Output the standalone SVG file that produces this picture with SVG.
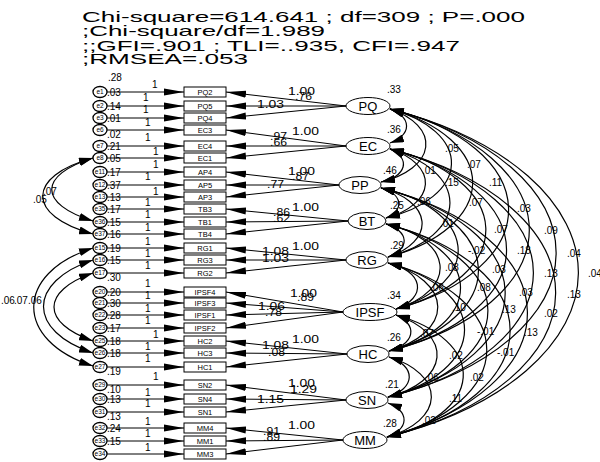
<svg xmlns="http://www.w3.org/2000/svg" width="600" height="462" viewBox="0 0 600 462">
<defs>
<marker id="ah" markerUnits="userSpaceOnUse" markerWidth="20" markerHeight="8" refX="20" refY="4" orient="auto" viewBox="0 0 20 8"><path d="M0,0.5 L20,4 L0,7.5 z" fill="#000"/></marker>
<marker id="ch" markerUnits="userSpaceOnUse" markerWidth="14" markerHeight="8" refX="14" refY="4" orient="auto-start-reverse" viewBox="0 0 14 8"><path d="M0,0 L14,4 L0,8 z" fill="#000"/></marker>
</defs>
<style>
text{font-family:"Liberation Sans",Arial,sans-serif;fill:#000}
.t{font-size:14.5px}
.n{font-size:10px}
.b{font-size:7.5px;text-anchor:middle}
.e{font-size:6.5px;text-anchor:middle}
.l{font-size:13px;text-anchor:middle}
rect{fill:#fff;stroke:#000;stroke-width:1}
ellipse{fill:#fff;stroke:#000;stroke-width:1}
.er ellipse{stroke-width:1.3}
.c path{fill:none;stroke:#000;stroke-width:1.2;marker-start:url(#ch);marker-end:url(#ch)}
.a line{stroke:#000;stroke-width:1;marker-end:url(#ah)}
</style>
<g id="fit">
<text class="t" x="82" y="22" textLength="443" lengthAdjust="spacingAndGlyphs">Chi-square=614.641 ; df=309 ; P=.000</text>
<text class="t" x="82" y="36" textLength="243" lengthAdjust="spacingAndGlyphs">;Chi-square/df=1.989</text>
<text class="t" x="82" y="50.5" textLength="378" lengthAdjust="spacingAndGlyphs">;;GFI=.901 ; TLI=..935, CFI=.947</text>
<text class="t" x="82" y="64" textLength="166" lengthAdjust="spacingAndGlyphs">;RMSEA=.053</text>
<text class="n" x="108" y="81">.28</text>
</g>
<g id="connectors">
<g class="a">
<line x1="107" y1="92" x2="184" y2="92"/><line x1="107" y1="106" x2="184" y2="106"/><line x1="107" y1="118" x2="184" y2="118"/>
<line x1="107" y1="130" x2="184" y2="130"/><line x1="107" y1="146" x2="184" y2="146"/><line x1="107" y1="158" x2="184" y2="158"/>
<line x1="107" y1="172" x2="184" y2="172"/><line x1="107" y1="185" x2="184" y2="185"/><line x1="107" y1="197" x2="184" y2="197"/>
<line x1="107" y1="209" x2="184" y2="209"/><line x1="107" y1="222" x2="184" y2="222"/><line x1="107" y1="234" x2="184" y2="234"/>
<line x1="107" y1="248" x2="184" y2="248"/><line x1="107" y1="260" x2="184" y2="260"/><line x1="107" y1="273" x2="184" y2="273"/>
<line x1="107" y1="292" x2="184" y2="292"/><line x1="107" y1="303" x2="184" y2="303"/><line x1="107" y1="315" x2="184" y2="315"/><line x1="107" y1="328" x2="184" y2="328"/>
<line x1="107" y1="341" x2="184" y2="341"/><line x1="107" y1="353" x2="184" y2="353"/><line x1="107" y1="367" x2="184" y2="367"/>
<line x1="107" y1="385" x2="184" y2="385"/><line x1="107" y1="399" x2="184" y2="399"/><line x1="107" y1="412" x2="184" y2="412"/>
<line x1="107" y1="428" x2="184" y2="428"/><line x1="107" y1="441" x2="184" y2="441"/><line x1="107" y1="454" x2="184" y2="454"/>
<line x1="346" y1="106" x2="226" y2="92"/><line x1="346" y1="106" x2="226" y2="106"/><line x1="346" y1="106" x2="226" y2="118"/>
<line x1="346" y1="146" x2="226" y2="130"/><line x1="346" y1="146" x2="226" y2="146"/><line x1="346" y1="146" x2="226" y2="158"/>
<line x1="339" y1="185" x2="226" y2="172"/><line x1="339" y1="185" x2="226" y2="185"/><line x1="339" y1="185" x2="226" y2="197"/>
<line x1="348" y1="221" x2="226" y2="209"/><line x1="348" y1="221" x2="226" y2="222"/><line x1="348" y1="221" x2="226" y2="234"/>
<line x1="346" y1="260" x2="226" y2="248"/><line x1="346" y1="260" x2="226" y2="260"/><line x1="346" y1="260" x2="226" y2="273"/>
<line x1="343" y1="312" x2="226" y2="292"/><line x1="343" y1="312" x2="226" y2="303"/><line x1="343" y1="312" x2="226" y2="315"/><line x1="343" y1="312" x2="226" y2="328"/>
<line x1="347" y1="354" x2="226" y2="341"/><line x1="347" y1="354" x2="226" y2="353"/><line x1="347" y1="354" x2="226" y2="367"/>
<line x1="346" y1="400" x2="226" y2="385"/><line x1="346" y1="400" x2="226" y2="399"/><line x1="346" y1="400" x2="226" y2="412"/>
<line x1="343" y1="440" x2="226" y2="428"/><line x1="343" y1="440" x2="226" y2="441"/><line x1="343" y1="440" x2="226" y2="454"/>
</g>
<g class="c">
<path d="M390,109 A35,20 0 0 1 390,143"/>
<path d="M390,109 A73.5,41 0 0 1 381,182"/>
<path d="M390,109 A109,60 0 0 1 386,218"/>
<path d="M390,109 A147,82 0 0 1 388,257"/>
<path d="M390,109 A198,110 0 0 1 396,309"/>
<path d="M390,109 A239,133 0 0 1 389,351"/>
<path d="M390,109 A284,158 0 0 1 388,397"/>
<path d="M390,109 A323,180 0 0 1 387,437"/>
<path d="M390,149 A34,19 0 0 1 381,182"/>
<path d="M390,149 A70,39 0 0 1 386,218"/>
<path d="M390,149 A108,60 0 0 1 388,257"/>
<path d="M390,149 A159,88 0 0 1 396,309"/>
<path d="M390,149 A200,111 0 0 1 389,351"/>
<path d="M390,149 A245,136 0 0 1 388,397"/>
<path d="M390,149 A284,158 0 0 1 387,437"/>
<path d="M381,188 A31,17.5 0 0 1 386,218"/>
<path d="M381,188 A70,39 0 0 1 388,257"/>
<path d="M381,188 A121,67 0 0 1 396,309"/>
<path d="M381,188 A162,90 0 0 1 389,351"/>
<path d="M381,188 A207,115 0 0 1 388,397"/>
<path d="M381,188 A246,137 0 0 1 387,437"/>
<path d="M386,224 A34,19 0 0 1 388,257"/>
<path d="M386,224 A85,47 0 0 1 396,309"/>
<path d="M386,224 A126,70 0 0 1 389,351"/>
<path d="M386,224 A172,95 0 0 1 388,397"/>
<path d="M386,224 A211,117 0 0 1 387,437"/>
<path d="M388,263 A47,26 0 0 1 396,309"/>
<path d="M388,263 A88,49 0 0 1 389,351"/>
<path d="M388,263 A133,74 0 0 1 388,397"/>
<path d="M388,263 A172,96 0 0 1 387,437"/>
<path d="M396,315 A37,21 0 0 1 389,351"/>
<path d="M396,315 A82,46 0 0 1 388,397"/>
<path d="M396,315 A122,67 0 0 1 387,437"/>
<path d="M389,357 A41,23 0 0 1 388,397"/>
<path d="M389,357 A80,45 0 0 1 387,437"/>
<path d="M388,403 A35,20 0 0 1 387,437"/>
<path d="M93,158 C38,175 38,204 93,221"/>
<path d="M93,158 C26,176 26,216 93,234"/>
<path d="M93,248 C14,273 14,341 93,366"/>
<path d="M93,260 C27,282 27,331 93,353"/>
<path d="M93,273 C41,291 41,323 93,341"/>
</g>
<g class="n">
<text x="152" y="88">1</text><text x="143" y="101">1</text><text x="143" y="113">1</text>
<text x="145" y="126">1</text><text x="145" y="141">1</text><text x="153" y="155">1</text>
<text x="153" y="168">1</text><text x="145" y="180">1</text><text x="153" y="195">1</text>
<text x="145" y="206">1</text><text x="145" y="218">1</text><text x="145" y="231">1</text>
<text x="145" y="245">1</text><text x="145" y="257">1</text><text x="145" y="269">1</text>
<text x="145" y="287">1</text><text x="145" y="299">1</text><text x="145" y="312">1</text><text x="145" y="324">1</text>
<text x="153" y="338">1</text><text x="145" y="350">1</text><text x="145" y="362">1</text>
<text x="153" y="380">1</text><text x="145" y="396">1</text><text x="145" y="407">1</text>
<text x="145" y="425">1</text><text x="145" y="437">1</text><text x="145" y="451">1</text>
<text x="288" y="95" textLength="27" lengthAdjust="spacingAndGlyphs">1.00</text><text x="295" y="100" textLength="17" lengthAdjust="spacingAndGlyphs">.76</text><text x="257" y="108" textLength="27" lengthAdjust="spacingAndGlyphs">1.03</text>
<text x="292" y="135" textLength="27" lengthAdjust="spacingAndGlyphs">1.00</text><text x="270" y="140" textLength="17" lengthAdjust="spacingAndGlyphs">.97</text><text x="270" y="146" textLength="17" lengthAdjust="spacingAndGlyphs">.66</text>
<text x="288" y="175" textLength="27" lengthAdjust="spacingAndGlyphs">1.00</text><text x="292" y="180" textLength="17" lengthAdjust="spacingAndGlyphs">.87</text><text x="267" y="188" textLength="17" lengthAdjust="spacingAndGlyphs">.77</text>
<text x="292" y="211" textLength="27" lengthAdjust="spacingAndGlyphs">1.00</text><text x="273" y="216" textLength="17" lengthAdjust="spacingAndGlyphs">.86</text><text x="273" y="222" textLength="17" lengthAdjust="spacingAndGlyphs">.62</text>
<text x="292" y="250" textLength="27" lengthAdjust="spacingAndGlyphs">1.00</text><text x="262" y="255" textLength="27" lengthAdjust="spacingAndGlyphs">1.08</text><text x="262" y="262" textLength="27" lengthAdjust="spacingAndGlyphs">1.03</text>
<text x="290" y="297" textLength="27" lengthAdjust="spacingAndGlyphs">1.00</text><text x="297" y="301" textLength="17" lengthAdjust="spacingAndGlyphs">.89</text><text x="258" y="310" textLength="27" lengthAdjust="spacingAndGlyphs">1.06</text><text x="265" y="316" textLength="17" lengthAdjust="spacingAndGlyphs">.78</text>
<text x="292" y="343" textLength="27" lengthAdjust="spacingAndGlyphs">1.00</text><text x="262" y="349" textLength="27" lengthAdjust="spacingAndGlyphs">1.08</text><text x="268" y="356" textLength="17" lengthAdjust="spacingAndGlyphs">.08</text>
<text x="288" y="387" textLength="27" lengthAdjust="spacingAndGlyphs">1.00</text><text x="290" y="393" textLength="27" lengthAdjust="spacingAndGlyphs">1.29</text><text x="257" y="403" textLength="27" lengthAdjust="spacingAndGlyphs">1.15</text>
<text x="288" y="429" textLength="27" lengthAdjust="spacingAndGlyphs">1.00</text><text x="263" y="435" textLength="17" lengthAdjust="spacingAndGlyphs">.91</text><text x="263" y="441" textLength="17" lengthAdjust="spacingAndGlyphs">.89</text>
<text x="445" y="152">.05</text><text x="467" y="168">.07</text><text x="489" y="186">.11</text><text x="517" y="212">.03</text>
<text x="544" y="234">.09</text><text x="567" y="257">.04</text><text x="588" y="277">.04</text><text x="422" y="174">.01</text>
<text x="445" y="186">.15</text><text x="417" y="205">.06</text><text x="469" y="206">.07</text><text x="440" y="227">.01</text>
<text x="494" y="233">.07</text><text x="468" y="254">-.02</text><text x="517" y="254">.18</text><text x="445" y="271">.08</text>
<text x="492" y="273">.03</text><text x="544" y="277">.13</text><text x="430" y="291">.06</text><text x="477" y="291">.08</text>
<text x="519" y="296">.03</text><text x="567" y="298">.13</text><text x="452" y="311">.10</text><text x="502" y="313">.13</text>
<text x="544" y="317">.02</text><text x="420" y="337">.07</text><text x="477" y="335">-.01</text><text x="524" y="336">.13</text>
<text x="449" y="359">.02</text><text x="497" y="356">-.01</text><text x="425" y="381">.06</text><text x="470" y="381">.02</text>
<text x="449" y="402">.11</text><text x="422" y="424">.02</text>
<text x="43" y="195">.07</text><text x="33" y="203">.05</text>
<text x="1" y="304">.06</text><text x="14" y="304">.07</text><text x="28" y="304">.06</text>
</g>
</g>
<g class="er">
<g id="e1"><ellipse cx="100" cy="92" rx="7" ry="5.5"/><text class="e" x="100" y="94.3">e1</text><text class="n" x="107" y="96">.03</text></g>
<g id="e2"><ellipse cx="100" cy="106" rx="7" ry="5.5"/><text class="e" x="100" y="108.3">e2</text><text class="n" x="107" y="110">.14</text></g>
<g id="e3"><ellipse cx="100" cy="118" rx="7" ry="5.5"/><text class="e" x="100" y="120.3">e3</text><text class="n" x="107" y="122">.01</text></g>
<g id="e6"><ellipse cx="100" cy="130" rx="7" ry="5.5"/><text class="e" x="100" y="132.3">e6</text><text class="n" x="107" y="138">.02</text></g>
<g id="e7"><ellipse cx="100" cy="146" rx="7" ry="5.5"/><text class="e" x="100" y="148.3">e7</text><text class="n" x="107" y="150">.21</text></g>
<g id="e8"><ellipse cx="100" cy="158" rx="7" ry="5.5"/><text class="e" x="100" y="160.3">e8</text><text class="n" x="107" y="162">.05</text></g>
<g id="e11"><ellipse cx="100" cy="172" rx="7" ry="5.5"/><text class="e" x="100" y="174.3">e11</text><text class="n" x="107" y="176">.17</text></g>
<g id="e12"><ellipse cx="100" cy="185" rx="7" ry="5.5"/><text class="e" x="100" y="187.3">e12</text><text class="n" x="107" y="189">.37</text></g>
<g id="e13"><ellipse cx="100" cy="197" rx="7" ry="5.5"/><text class="e" x="100" y="199.3">e13</text><text class="n" x="107" y="201">.13</text></g>
<g id="e35"><ellipse cx="100" cy="209" rx="7" ry="5.5"/><text class="e" x="100" y="211.3">e35</text><text class="n" x="107" y="213">.17</text></g>
<g id="e36"><ellipse cx="100" cy="222" rx="7" ry="5.5"/><text class="e" x="100" y="224.3">e36</text><text class="n" x="107" y="226">.15</text></g>
<g id="e37"><ellipse cx="100" cy="234" rx="7" ry="5.5"/><text class="e" x="100" y="236.3">e37</text><text class="n" x="107" y="238">.16</text></g>
<g id="e15"><ellipse cx="100" cy="248" rx="7" ry="5.5"/><text class="e" x="100" y="250.3">e15</text><text class="n" x="107" y="252">.19</text></g>
<g id="e16"><ellipse cx="100" cy="260" rx="7" ry="5.5"/><text class="e" x="100" y="262.3">e16</text><text class="n" x="107" y="264">.15</text></g>
<g id="e17"><ellipse cx="100" cy="273" rx="7" ry="5.5"/><text class="e" x="100" y="275.3">e17</text><text class="n" x="107" y="281">.30</text></g>
<g id="e20"><ellipse cx="100" cy="292" rx="7" ry="5.5"/><text class="e" x="100" y="294.3">e20</text><text class="n" x="107" y="296">.20</text></g>
<g id="e21"><ellipse cx="100" cy="303" rx="7" ry="5.5"/><text class="e" x="100" y="305.3">e21</text><text class="n" x="107" y="307">.30</text></g>
<g id="e22"><ellipse cx="100" cy="315" rx="7" ry="5.5"/><text class="e" x="100" y="317.3">e22</text><text class="n" x="107" y="319">.28</text></g>
<g id="e23"><ellipse cx="100" cy="328" rx="7" ry="5.5"/><text class="e" x="100" y="330.3">e23</text><text class="n" x="107" y="332">.17</text></g>
<g id="e25"><ellipse cx="100" cy="341" rx="7" ry="5.5"/><text class="e" x="100" y="343.3">e25</text><text class="n" x="107" y="345">.18</text></g>
<g id="e26"><ellipse cx="100" cy="353" rx="7" ry="5.5"/><text class="e" x="100" y="355.3">e26</text><text class="n" x="107" y="357">.18</text></g>
<g id="e27"><ellipse cx="100" cy="367" rx="7" ry="5.5"/><text class="e" x="100" y="369.3">e27</text><text class="n" x="107" y="375">.19</text></g>
<g id="e29"><ellipse cx="100" cy="385" rx="7" ry="5.5"/><text class="e" x="100" y="387.3">e29</text><text class="n" x="107" y="393">.10</text></g>
<g id="e30"><ellipse cx="100" cy="399" rx="7" ry="5.5"/><text class="e" x="100" y="401.3">e30</text><text class="n" x="107" y="403">.13</text></g>
<g id="e31"><ellipse cx="100" cy="412" rx="7" ry="5.5"/><text class="e" x="100" y="414.3">e31</text><text class="n" x="107" y="420">.13</text></g>
<g id="e32"><ellipse cx="100" cy="428" rx="7" ry="5.5"/><text class="e" x="100" y="430.3">e32</text><text class="n" x="107" y="432">.24</text></g>
<g id="e33"><ellipse cx="100" cy="441" rx="7" ry="5.5"/><text class="e" x="100" y="443.3">e33</text><text class="n" x="107" y="445">.15</text></g>
<g id="e34"><ellipse cx="100" cy="454" rx="7" ry="5.5"/><text class="e" x="100" y="456.3">e34</text></g>
</g>
<g id="PQ2"><rect x="184" y="87" width="42" height="10"/><text class="b" x="205" y="94.5">PQ2</text></g>
<g id="PQ5"><rect x="184" y="101" width="42" height="10"/><text class="b" x="205" y="108.5">PQ5</text></g>
<g id="PQ4"><rect x="184" y="113" width="42" height="10"/><text class="b" x="205" y="120.5">PQ4</text></g>
<g id="EC3"><rect x="184" y="125" width="42" height="10"/><text class="b" x="205" y="132.5">EC3</text></g>
<g id="EC4"><rect x="184" y="141" width="42" height="10"/><text class="b" x="205" y="148.5">EC4</text></g>
<g id="EC1"><rect x="184" y="153" width="42" height="10"/><text class="b" x="205" y="160.5">EC1</text></g>
<g id="AP4"><rect x="184" y="167" width="42" height="10"/><text class="b" x="205" y="174.5">AP4</text></g>
<g id="AP5"><rect x="184" y="180" width="42" height="10"/><text class="b" x="205" y="187.5">AP5</text></g>
<g id="AP3"><rect x="184" y="192" width="42" height="10"/><text class="b" x="205" y="199.5">AP3</text></g>
<g id="TB3"><rect x="184" y="204" width="42" height="10"/><text class="b" x="205" y="211.5">TB3</text></g>
<g id="TB1"><rect x="184" y="217" width="42" height="10"/><text class="b" x="205" y="224.5">TB1</text></g>
<g id="TB4"><rect x="184" y="229" width="42" height="10"/><text class="b" x="205" y="236.5">TB4</text></g>
<g id="RG1"><rect x="184" y="243" width="42" height="10"/><text class="b" x="205" y="250.5">RG1</text></g>
<g id="RG3"><rect x="184" y="255" width="42" height="10"/><text class="b" x="205" y="262.5">RG3</text></g>
<g id="RG2"><rect x="184" y="268" width="42" height="10"/><text class="b" x="205" y="275.5">RG2</text></g>
<g id="IPSF4"><rect x="184" y="287" width="42" height="10"/><text class="b" x="205" y="294.5">IPSF4</text></g>
<g id="IPSF3"><rect x="184" y="298" width="42" height="10"/><text class="b" x="205" y="305.5">IPSF3</text></g>
<g id="IPSF1"><rect x="184" y="310" width="42" height="10"/><text class="b" x="205" y="317.5">IPSF1</text></g>
<g id="IPSF2"><rect x="184" y="323" width="42" height="10"/><text class="b" x="205" y="330.5">IPSF2</text></g>
<g id="HC2"><rect x="184" y="336" width="42" height="10"/><text class="b" x="205" y="343.5">HC2</text></g>
<g id="HC3"><rect x="184" y="348" width="42" height="10"/><text class="b" x="205" y="355.5">HC3</text></g>
<g id="HC1"><rect x="184" y="362" width="42" height="10"/><text class="b" x="205" y="369.5">HC1</text></g>
<g id="SN2"><rect x="184" y="380" width="42" height="10"/><text class="b" x="205" y="387.5">SN2</text></g>
<g id="SN4"><rect x="184" y="394" width="42" height="10"/><text class="b" x="205" y="401.5">SN4</text></g>
<g id="SN1"><rect x="184" y="407" width="42" height="10"/><text class="b" x="205" y="414.5">SN1</text></g>
<g id="MM4"><rect x="184" y="423" width="42" height="10"/><text class="b" x="205" y="430.5">MM4</text></g>
<g id="MM1"><rect x="184" y="436" width="42" height="10"/><text class="b" x="205" y="443.5">MM1</text></g>
<g id="MM3"><rect x="184" y="449" width="42" height="10"/><text class="b" x="205" y="456.5">MM3</text></g>
<g id="PQ"><ellipse cx="368" cy="106" rx="22" ry="8.5"/><text class="l" x="368" y="110.5">PQ</text><text class="n" x="387" y="93">.33</text></g>
<g id="EC"><ellipse cx="368" cy="146" rx="22" ry="8.5"/><text class="l" x="368" y="150.5">EC</text><text class="n" x="387" y="133">.36</text></g>
<g id="PP"><ellipse cx="360" cy="185" rx="21" ry="8.5"/><text class="l" x="360" y="189.5">PP</text><text class="n" x="383" y="174">.46</text></g>
<g id="BT"><ellipse cx="367" cy="221" rx="19" ry="8.5"/><text class="l" x="367" y="225.5">BT</text><text class="n" x="390" y="209">.25</text></g>
<g id="RG"><ellipse cx="367" cy="260" rx="21" ry="8.5"/><text class="l" x="367" y="264.5">RG</text><text class="n" x="390" y="249">.29</text></g>
<g id="IPSF"><ellipse cx="370" cy="312" rx="27" ry="8.5"/><text class="l" x="370" y="316.5">IPSF</text><text class="n" x="387" y="299">.34</text></g>
<g id="HC"><ellipse cx="368" cy="354" rx="21" ry="8.5"/><text class="l" x="368" y="358.5">HC</text><text class="n" x="387" y="341">.26</text></g>
<g id="SN"><ellipse cx="367" cy="400" rx="21" ry="8.5"/><text class="l" x="367" y="404.5">SN</text><text class="n" x="385" y="388">.21</text></g>
<g id="MM"><ellipse cx="365" cy="440" rx="22" ry="8.5"/><text class="l" x="365" y="444.5">MM</text><text class="n" x="383" y="427">.28</text></g>
</svg>
